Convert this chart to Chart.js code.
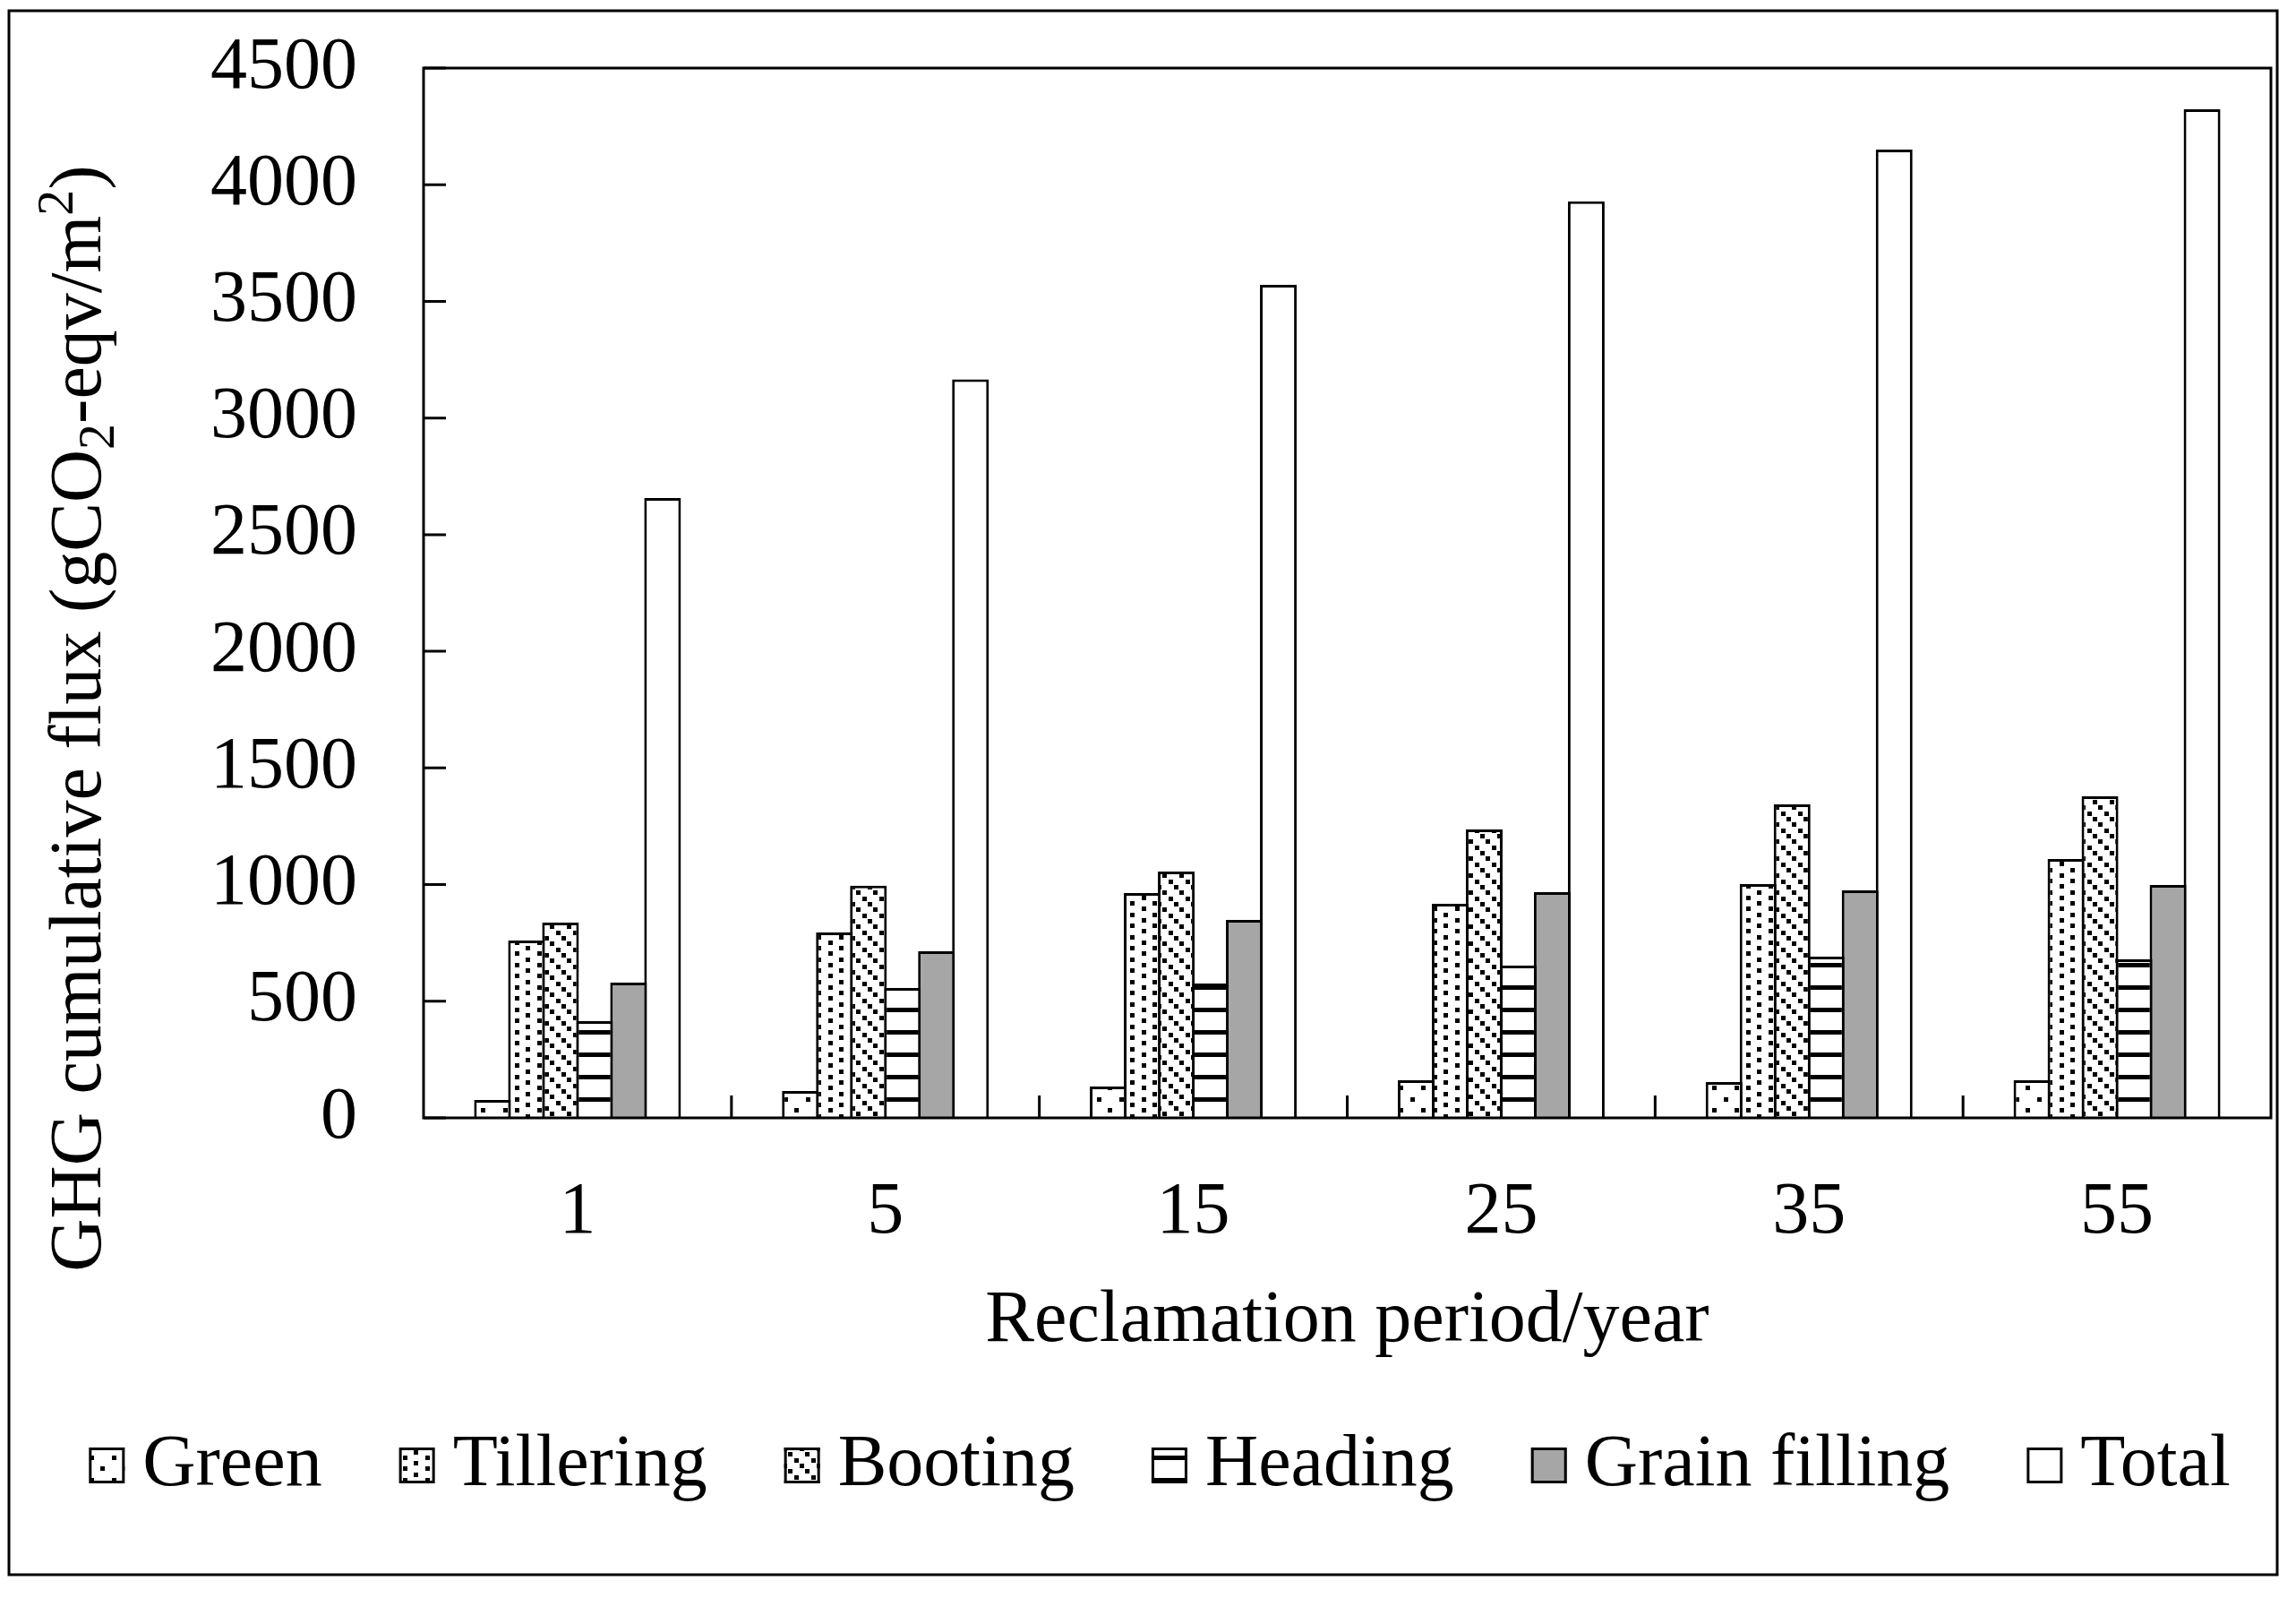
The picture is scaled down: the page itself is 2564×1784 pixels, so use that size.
<!DOCTYPE html>
<html lang="en">
<head>
<meta charset="UTF-8">
<title>GHG cumulative flux by reclamation period</title>
<script src="https://cdn.jsdelivr.net/npm/chart.js"></script>
<style>
    * { margin: 0; padding: 0; box-sizing: border-box; }
    body { background: #fff; width: 2564px; height: 1784px; overflow: hidden; }
    .wrap { position: relative; width: 2564px; height: 1784px; }
</style>
</head>
<body>
<div class="wrap"><canvas id="fluxChart"></canvas></div>
<script>
    // values (gCO2-eqv/m2)
    const periods = ['1', '5', '15', '25', '35', '55'];
    const green = [77, 115, 134, 161, 154, 161];
    const tillering = [760, 795, 964, 918, 1002, 1110];
    const booting = [837, 995, 1056, 1236, 1344, 1378];
    const heading = [415, 557, 576, 653, 691, 680];
    const grainFilling = [580, 714, 849, 968, 975, 998];
    const total = [2657, 3166, 3571, 3929, 4151, 4323];
    const yTicks = [0, 500, 1000, 1500, 2000, 2500, 3000, 3500, 4000, 4500];

    const FONT = '"Liberation Serif", "Times New Roman", serif';
    Chart.defaults.font.family = FONT;
    Chart.defaults.color = '#000';

    // black & white fill patterns like the original spreadsheet chart
    function makePattern(size, draw) {
        const c = document.createElement('canvas');
        c.width = size;
        c.height = size;
        const g = c.getContext('2d');
        g.fillStyle = '#fff';
        g.fillRect(0, 0, size, size);
        g.fillStyle = '#000';
        draw(g);
        return g.createPattern(c, 'repeat');
    }

    const greenFill = makePattern(25, g => {
        g.fillRect(0, 0, 5, 5);
        g.fillRect(12, 12, 5, 5);
    });
    const tilleringFill = makePattern(25, g => {
        g.fillRect(0, 0, 5, 5);
        g.fillRect(0, 12, 5, 5);
        g.fillRect(12, 6, 5, 5);
        g.fillRect(12, 19, 5, 5);
    });
    const bootingFill = makePattern(19, g => {
        g.fillRect(0, 0, 5, 5);
        g.fillRect(6, 6, 5, 5);
        g.fillRect(13, 13, 5, 5);
    });
    const headingFill = makePattern(25, g => {
        g.fillRect(0, 0, 25, 5);
    });

    function series(label, data, fill) {
        return {
            label: label,
            data: data,
            backgroundColor: fill,
            borderColor: '#000',
            borderWidth: 3,
            categoryPercentage: 0.663,
            barPercentage: 1.08
        };
    }

    // y title with sub/superscripts, plus frame, inward ticks and legend
    const decorations = {
        id: 'decorations',
        afterDraw(chart) {
            const ctx = chart.ctx;
            const a = chart.chartArea;
            const x = chart.scales.x;
            const y = chart.scales.y;
            ctx.save();
            ctx.strokeStyle = '#000';
            ctx.lineWidth = 3;

            ctx.strokeRect(a.left, a.top, a.right - a.left, a.bottom - a.top);
            ctx.beginPath();
            yTicks.forEach(v => {
                const py = y.getPixelForValue(v);
                ctx.moveTo(a.left, py);
                ctx.lineTo(a.left + 25, py);
            });
            for (let i = 1; i < periods.length; i++) {
                const px = (x.getPixelForValue(i - 1) + x.getPixelForValue(i)) / 2;
                ctx.moveTo(px, a.bottom);
                ctx.lineTo(px, a.bottom - 25);
            }
            ctx.stroke();

            // outer border of the figure
            ctx.strokeRect(10, 12, 2533, 1746);

            // y axis title
            const parts = [
                ['GHG cumulative flux (gCO', 82, 0],
                ['2', 58, 15],
                ['-eqv/m', 82, 0],
                ['2', 58, -31],
                [')', 82, 0]
            ];
            let width = 0;
            parts.forEach(p => {
                ctx.font = p[1] + 'px ' + FONT;
                p.push(ctx.measureText(p[0]).width);
                width += p[3];
            });
            ctx.translate(112, 802);
            ctx.rotate(-Math.PI / 2);
            ctx.fillStyle = '#000';
            ctx.textBaseline = 'alphabetic';
            let u = -width / 2;
            parts.forEach(p => {
                ctx.font = p[1] + 'px ' + FONT;
                ctx.fillText(p[0], u, p[2]);
                u += p[3];
            });
            ctx.setTransform(1, 0, 0, 1, 0, 0);

            // legend
            ctx.font = '82px ' + FONT;
            const box = 40, gap = 20, spacing = 86, cy = 1636;
            const items = chart.data.datasets.map(d => ({
                text: d.label,
                fill: d.backgroundColor,
                w: ctx.measureText(d.label).width
            }));
            const legendWidth = items.reduce((s, it) => s + box + gap + it.w, 0) + spacing * (items.length - 1);
            let lx = 1295 - legendWidth / 2;
            ctx.textBaseline = 'middle';
            ctx.textAlign = 'left';
            items.forEach(it => {
                ctx.fillStyle = it.fill;
                ctx.fillRect(lx, cy - box / 2, box, box);
                ctx.strokeRect(lx + 1.5, cy - box / 2 + 1.5, box - 3, box - 3);
                ctx.fillStyle = '#000';
                ctx.fillText(it.text, lx + box + gap, cy);
                lx += box + gap + it.w + spacing;
            });
            ctx.restore();
        }
    };

    new Chart(document.getElementById('fluxChart'), {
        type: 'bar',
        data: {
            labels: periods,
            datasets: [
                series('Green', green, greenFill),
                series('Tillering', tillering, tilleringFill),
                series('Booting', booting, bootingFill),
                series('Heading', heading, headingFill),
                series('Grain filling', grainFilling, '#a6a6a6'),
                series('Total', total, '#ffffff')
            ]
        },
        options: {
            responsive: true,
            maintainAspectRatio: false,
            animation: false,
            devicePixelRatio: 1,
            layout: { padding: { top: 76, right: 28, bottom: 250, left: 0 } },
            plugins: {
                legend: { display: false },
                tooltip: { enabled: false }
            },
            scales: {
                x: {
                    grid: { display: false, drawTicks: false },
                    border: { display: false },
                    ticks: { padding: 57, color: '#000', font: { size: 82 } },
                    title: {
                        display: true,
                        text: 'Reclamation period/year',
                        color: '#000',
                        font: { size: 82 },
                        padding: { top: 23, bottom: 9 }
                    },
                    afterFit(scale) { scale.height = 286; }
                },
                y: {
                    min: 0,
                    max: 4500,
                    grid: { display: false, drawTicks: false },
                    border: { display: false },
                    ticks: {
                        padding: 74,
                        color: '#000',
                        font: { size: 82 },
                        callback: v => String(v)
                    },
                    afterBuildTicks(scale) {
                        scale.ticks = yTicks.map(v => ({ value: v }));
                    },
                    afterFit(scale) {
                        scale.width = 473;
                        // tick padding is horizontal here, keep it out of the top/bottom room
                        scale.paddingTop = 49;
                        scale.paddingBottom = 49;
                    }
                }
            }
        },
        plugins: [decorations]
    });
</script>
</body>
</html>
